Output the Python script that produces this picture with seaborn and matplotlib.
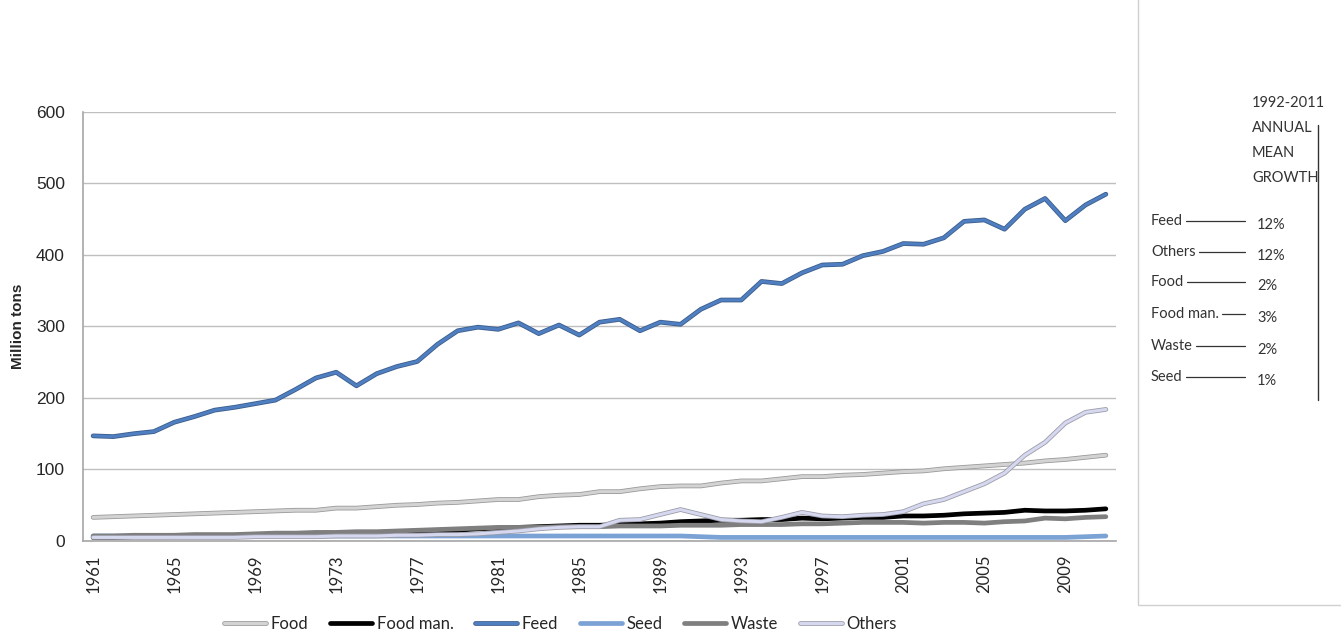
import matplotlib
matplotlib.use("Agg")
import matplotlib.pyplot as plt
import matplotlib.patheffects as pe
from matplotlib.patches import Rectangle
from matplotlib.lines import Line2D
import seaborn as sns
import numpy as np
import pandas as pd

# --- data (million tons) ---
years = list(range(1961, 2012))

food = [33, 34, 35, 36, 37, 38, 39, 40, 41, 42, 43, 43, 46, 46, 48, 50, 51, 53, 54, 56,
        58, 58, 62, 64, 65, 69, 69, 73, 76, 77, 77, 81, 84, 84, 87, 90, 90, 92, 93, 95,
        97, 98, 101, 103, 105, 107, 109, 112, 114, 117, 120]
food_man = [5, 5, 6, 6, 6, 7, 7, 8, 8, 9, 9, 10, 10, 11, 11, 12, 13, 14, 15, 17,
            18, 19, 20, 21, 22, 22, 23, 24, 25, 27, 28, 29, 29, 30, 30, 32, 31, 32, 33, 33,
            35, 35, 36, 38, 39, 40, 43, 42, 42, 43, 45]
feed = [147, 146, 150, 153, 166, 174, 183, 187, 192, 197, 212, 228, 236, 217, 234, 244, 251, 275, 294, 299,
        296, 305, 290, 302, 288, 306, 310, 294, 306, 303, 324, 337, 337, 363, 360, 375, 386, 387, 399, 405,
        416, 415, 424, 447, 449, 436, 464, 479, 448, 470, 485]
seed = [7, 7, 7, 7, 7, 7, 7, 7, 7, 7, 7, 7, 7, 7, 7, 7, 7, 7, 7, 7,
        7, 7, 7, 7, 7, 7, 7, 7, 7, 7, 6, 5, 5, 5, 5, 5, 5, 5, 5, 5,
        5, 5, 5, 5, 5, 5, 5, 5, 5, 6, 7]
waste = [7, 7, 8, 8, 8, 9, 9, 9, 10, 11, 11, 12, 12, 13, 13, 14, 15, 16, 17, 18,
         19, 19, 19, 20, 20, 20, 21, 21, 21, 22, 22, 22, 23, 23, 23, 24, 24, 25, 26, 26,
         26, 25, 26, 26, 25, 27, 28, 32, 31, 33, 34]
others = [5, 5, 5, 5, 5, 5, 5, 5, 6, 6, 6, 6, 7, 7, 7, 8, 8, 9, 9, 10,
          12, 14, 17, 19, 20, 20, 29, 30, 37, 44, 37, 30, 28, 27, 33, 40, 35, 34, 36, 37,
          41, 52, 58, 69, 80, 95, 120, 138, 165, 180, 184]

series_names = ["Food", "Food man.", "Feed", "Seed", "Waste", "Others"]
series_vals = [food, food_man, feed, seed, waste, others]

growth_names = ["Feed", "Others", "Food", "Food man.", "Waste", "Seed"]
growth_pct = ["12%", "12%", "2%", "3%", "2%", "1%"]

# line colour, outline colour
styles = {
    "Food": ("#d3d3d3", "#9a9a9a"),
    "Food man.": ("#000000", "#000000"),
    "Feed": ("#4f7fc0", "#3b5d8c"),
    "Seed": ("#7ba2d4", "#7ba2d4"),
    "Waste": ("#7f7f7f", "#7f7f7f"),
    "Others": ("#d6d8f0", "#9c9ca8"),
}

df = pd.DataFrame({"year": years * len(series_names),
                   "series": np.repeat(series_names, len(years)),
                   "value": np.concatenate(series_vals)})

sns.set_style("white")
plt.rcParams["font.family"] = ["Lato", "DejaVu Sans"]

fig = plt.figure(figsize=(13.41, 6.34), dpi=100)
ax = fig.add_axes([0.0619, 0.1467, 0.7703, 0.6767])

for name in series_names:
    col, edge = styles[name]
    sns.lineplot(data=df[df["series"] == name], x="year", y="value", ax=ax,
                 color=col, linewidth=2.2, label=name, legend=False)
    ln = ax.lines[-1]
    ln.set_path_effects([pe.Stroke(linewidth=3.4, foreground=edge), pe.Normal()])
    ln.set_solid_capstyle("round")

ax.set_xlim(1960.5, 2011.5)
ax.set_ylim(0, 600)
ax.set_yticks(range(0, 601, 100))
ax.set_yticklabels([str(v) for v in range(0, 601, 100)], family="Liberation Sans", fontsize=12.5)
ax.set_xticks(list(range(1961, 2012, 4)))
ax.set_xticklabels([str(y) for y in range(1961, 2012, 4)], rotation=90, fontsize=12)
ax.tick_params(axis="y", length=0, pad=13)
ax.tick_params(axis="x", length=0, pad=10)
ax.yaxis.grid(True, color="#bfbfbf", linewidth=1)
ax.set_axisbelow(True)
for s in ["top", "right"]:
    ax.spines[s].set_visible(False)
for s in ["left", "bottom"]:
    ax.spines[s].set_color("#a6a6a6")
    ax.spines[s].set_linewidth(1.2)
ax.set_xlabel("")
ax.set_ylabel("Million tons", family="Liberation Sans", fontweight="bold", fontsize=11, labelpad=8)

# legend
handles = []
for name in series_names:
    col, edge = styles[name]
    h = Line2D([0], [0], color=col, linewidth=2.2,
               path_effects=[pe.Stroke(linewidth=3.4, foreground=edge), pe.Normal()])
    handles.append(h)
fig.legend(handles, series_names, loc="center", bbox_to_anchor=(0.418, 0.016), ncol=6,
           frameon=False, fontsize=12, handlelength=2.5, columnspacing=1.3, handletextpad=0.3)

# right side panel
fig.patches.append(Rectangle((1138 / 1341, 1 - 605 / 634), 1.0, 1.0, transform=fig.transFigure,
                             facecolor="white", edgecolor="#d0d0d0", linewidth=1.0))
txt_col = "#333333"
for i, t in enumerate(["1992-2011", "ANNUAL", "MEAN", "GROWTH"]):
    fig.text(1252 / 1341, 1 - (103 + 25 * i) / 634, t, fontsize=10.5, color=txt_col,
             ha="left", va="center")
fig.add_artist(Line2D([1318 / 1341, 1318 / 1341], [1 - 125 / 634, 1 - 400 / 634],
                      transform=fig.transFigure, color="#333333", linewidth=1))
row_y = [221, 252, 282, 314, 346, 377]
for name, pct, yy in zip(growth_names, growth_pct, row_y):
    yf = 1 - yy / 634
    t = fig.text(1151 / 1341, yf, name, fontsize=10.5, color=txt_col, ha="left", va="center")
    fig.canvas.draw()
    bb = t.get_window_extent()
    fig.add_artist(Line2D([(bb.x1 + 3) / 1341, 1245 / 1341], [yf, yf],
                          transform=fig.transFigure, color="#333333", linewidth=0.9))
    fig.text(1257 / 1341, 1 - (yy + 4) / 634, pct, fontsize=10.5, color=txt_col,
             ha="left", va="center")

fig.savefig("out.png", dpi=100)
